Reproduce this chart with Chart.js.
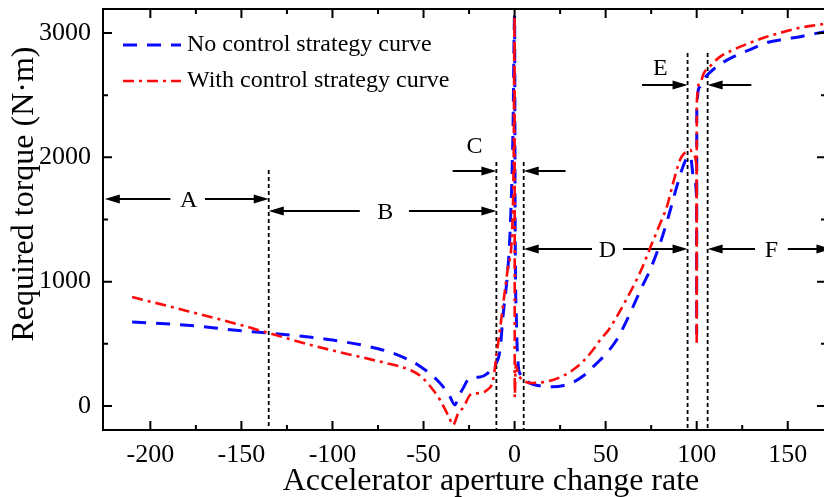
<!DOCTYPE html>
<html>
<head>
<meta charset="utf-8">
<script src="https://cdn.jsdelivr.net/npm/chart.js@4.4.1/dist/chart.umd.min.js"></script>
<style>
  html, body { margin: 0; padding: 0; background: #fff; overflow: hidden; }
  canvas { display: block; }
</style>
</head>
<body>
<canvas id="torqueChart" width="828" height="497"></canvas>
<script>
// accelerator aperture change rate vs. required torque, two strategies
const noCtrlRate = [-210, -180, -150, -135, -118, -100, -79, -65, -52, -41,
  -36, -32.7, -31, -28, -26, -24.5, -19, -15, -12, -8,
  -6.4, -4, -2.5, -0.9, 0, 0.3, 1, 2, 3, 5,
  7, 10, 15, 21, 27, 32, 38, 43, 47, 52,
  56, 60, 65, 70, 74.4, 80, 85, 89, 92.4, 95,
  96.5, 98.5, 99.9, 100, 100.05, 101.7, 104, 107, 112, 120,
  130, 138, 148, 156, 165, 171];
const noCtrlTorque = [676, 650, 605, 587, 563, 530, 475, 415, 320, 185,
  90, 8, 70, 150, 205, 225, 233, 260, 314, 450,
  716, 1050, 1392, 2196, 3140, 1500, 700, 330, 260, 215,
  195, 175, 160, 155, 165, 190, 245, 314, 370, 450,
  531, 640, 797, 960, 1094, 1311, 1550, 1762, 1923, 2003,
  2010, 1818, 1690, 585, 2381, 2566, 2630, 2679, 2740, 2808,
  2870, 2920, 2950, 2968, 2995, 3012];

const withCtrlRate = [-210, -180, -150, -135, -118, -100, -79, -72, -63, -57,
  -52, -47, -41, -36, -33.8, -31, -28, -24.5, -22, -19,
  -15, -11.8, -10, -8, -6, -3.6, -1.4, -0.5, 0, 0.1,
  0.6, 2, 4, 7, 10, 15, 21, 27, 32, 38,
  43, 47, 52, 56, 60, 65, 70, 74.4, 80, 83.6,
  87, 90.8, 93, 95, 96.5, 98, 99.9, 100, 100.05, 101.7,
  104, 107, 112, 120, 130, 138, 148, 156, 165, 171];
const withCtrlTorque = [877, 765, 650, 587, 515, 447, 375, 350, 318, 288,
  245, 170, 50, -90, -153, -60, -8, 88, 100, 105,
  130, 209, 400, 620, 850, 1118, 1392, 2000, 3140, 70,
  330, 260, 210, 190, 185, 190, 209, 245, 290, 365,
  450, 531, 620, 716, 820, 957, 1110, 1270, 1470, 1601,
  1790, 1979, 2030, 2050, 2060, 2020, 1930, 490, 2437, 2598,
  2680, 2727, 2800, 2864, 2925, 2968, 3010, 3040, 3062, 3075];

const seriesNames = ['No control strategy curve', 'With control strategy curve'];
const xTickValues = [-200, -150, -100, -50, 0, 50, 100, 150];
const yTickValues = [0, 1000, 2000, 3000];

// region boundaries and how high each dashed line reaches
const regionEdges = [-135, -10, 5, 95, 106];
const edgeTops = [1898, 1962, 1962, 2839, 2839];

// arrow pieces: [tail, head, torque level]
const regionArrows = [
  [-189, -225, 1665], [-170, -135, 1665],
  [-85, -135, 1568], [-58, -10, 1568],
  [-34, -10, 1890], [28, 5, 1890],
  [42.5, 5, 1263], [59.5, 95, 1263],
  [70, 95, 2582], [130, 106, 2582],
  [132, 106, 1263], [150, 174, 1263]
];
const regionLabels = [
  ['A', -179, 1665], ['B', -71, 1568], ['C', -22, 2099],
  ['D', 51, 1263], ['E', 80, 2727], ['F', 141, 1263]
];

const FONT = "'Liberation Serif', 'Times New Roman', serif";
const BLUE = '#0a0aff';
const RED = '#ff0a0a';

const toPoints = (xs, ys) => xs.map((x, i) => ({ x: x, y: ys[i] }));

// dashed boundaries, arrows and region letters
const regionMarks = {
  id: 'regionMarks',
  beforeDatasetsDraw(chart) {
    const { ctx, scales: { x, y } } = chart;
    const bottom = chart.chartArea.bottom;
    ctx.save();
    ctx.strokeStyle = '#000';
    ctx.lineWidth = 1.8;
    ctx.setLineDash([4, 3]);
    regionEdges.forEach((v, i) => {
      const px = x.getPixelForValue(v);
      ctx.beginPath();
      ctx.moveTo(px, y.getPixelForValue(edgeTops[i]));
      ctx.lineTo(px, bottom);
      ctx.stroke();
    });
    ctx.setLineDash([]);
    ctx.lineWidth = 2;
    ctx.fillStyle = '#000';
    regionArrows.forEach(([tail, head, level]) => {
      const py = y.getPixelForValue(level);
      const x0 = x.getPixelForValue(tail);
      const x1 = x.getPixelForValue(head);
      const dir = x1 > x0 ? 1 : -1;
      ctx.beginPath();
      ctx.moveTo(x0, py);
      ctx.lineTo(x1 - dir * 10, py);
      ctx.stroke();
      ctx.beginPath();
      ctx.moveTo(x1, py);
      ctx.lineTo(x1 - dir * 15, py - 4.5);
      ctx.lineTo(x1 - dir * 15, py + 4.5);
      ctx.closePath();
      ctx.fill();
    });
    ctx.font = '24px ' + FONT;
    ctx.textAlign = 'center';
    ctx.textBaseline = 'alphabetic';
    regionLabels.forEach(([txt, v, level]) => {
      ctx.fillText(txt, x.getPixelForValue(v), y.getPixelForValue(level) + 8);
    });
    ctx.restore();
  }
};

// box frame, inward ticks, legend and axis titles
const frameAndLegend = {
  id: 'frameAndLegend',
  afterDraw(chart) {
    const { ctx, chartArea: a, scales: { x, y } } = chart;
    ctx.save();
    ctx.strokeStyle = '#000';
    ctx.lineWidth = 2;
    ctx.strokeRect(a.left, a.top, a.right - a.left, a.bottom - a.top);
    ctx.beginPath();
    for (let v = -200; v <= 170; v += 25) {
      const px = x.getPixelForValue(v);
      const len = v % 50 === 0 ? 9 : 5;
      ctx.moveTo(px, a.bottom); ctx.lineTo(px, a.bottom - len);
      ctx.moveTo(px, a.top); ctx.lineTo(px, a.top + len);
    }
    for (let v = 0; v <= 3000; v += 500) {
      const py = y.getPixelForValue(v);
      const len = v % 1000 === 0 ? 9 : 5;
      ctx.moveTo(a.left, py); ctx.lineTo(a.left + len, py);
      ctx.moveTo(a.right, py); ctx.lineTo(a.right - len, py);
    }
    ctx.stroke();

    // legend
    ctx.font = '24px ' + FONT;
    ctx.fillStyle = '#000';
    ctx.textAlign = 'left';
    ctx.textBaseline = 'middle';
    chart.data.datasets.forEach((ds, i) => {
      const ly = a.top + 36 + i * 36;
      ctx.save();
      ctx.strokeStyle = ds.borderColor;
      ctx.lineWidth = ds.borderWidth;
      ctx.setLineDash(ds.borderDash);
      ctx.beginPath();
      ctx.moveTo(a.left + 20, ly);
      ctx.lineTo(a.left + 78, ly);
      ctx.stroke();
      ctx.restore();
      ctx.fillText(ds.label, a.left + 84, ly);
    });

    // axis titles
    ctx.textAlign = 'center';
    ctx.textBaseline = 'alphabetic';
    ctx.font = '32px ' + FONT;
    ctx.fillText('Accelerator aperture change rate', 491, 490);
    ctx.translate(33, 194);
    ctx.rotate(-Math.PI / 2);
    ctx.font = '32px ' + FONT;
    ctx.fillText('Required torque (N\u00B7m)', 0, 0);
    ctx.restore();
  }
};

const noPadding = (scale) => {
  scale.paddingTop = 0;
  scale.paddingBottom = 0;
  scale.paddingLeft = 0;
  scale.paddingRight = 0;
};

new Chart(document.getElementById('torqueChart'), {
  type: 'scatter',
  data: {
    datasets: [
      {
        label: seriesNames[0],
        data: toPoints(noCtrlRate, noCtrlTorque),
        showLine: true,
        borderColor: BLUE,
        borderWidth: 3,
        borderDash: [14, 10],
        pointRadius: 0,
        cubicInterpolationMode: 'monotone',
        order: 1
      },
      {
        label: seriesNames[1],
        data: toPoints(withCtrlRate, withCtrlTorque),
        showLine: true,
        borderColor: RED,
        borderWidth: 2.6,
        borderDash: [11, 5, 3, 5],
        pointRadius: 0,
        cubicInterpolationMode: 'monotone',
        order: 0
      }
    ]
  },
  options: {
    responsive: false,
    animation: false,
    devicePixelRatio: 1,
    layout: { padding: { top: 9, right: 2, left: 0, bottom: 0 } },
    plugins: { legend: { display: false }, tooltip: { enabled: false } },
    scales: {
      x: {
        type: 'linear',
        min: -226,
        max: 171,
        grid: { display: false, drawTicks: false },
        border: { display: false },
        afterBuildTicks: (scale) => { scale.ticks = xTickValues.map(v => ({ value: v })); },
        afterFit: (scale) => { scale.height = 67; noPadding(scale); },
        ticks: { color: '#000', font: { family: FONT, size: 26 }, padding: 10, maxRotation: 0,
          callback: (v) => String(v) }
      },
      y: {
        type: 'linear',
        min: -193,
        max: 3193,
        grid: { display: false, drawTicks: false },
        border: { display: false },
        afterBuildTicks: (scale) => { scale.ticks = yTickValues.map(v => ({ value: v })); },
        afterFit: (scale) => { scale.width = 103; noPadding(scale); },
        ticks: { color: '#000', font: { family: FONT, size: 26 }, padding: 12,
          callback: (v) => String(v) }
      }
    }
  },
  plugins: [regionMarks, frameAndLegend]
});
</script>
</body>
</html>
